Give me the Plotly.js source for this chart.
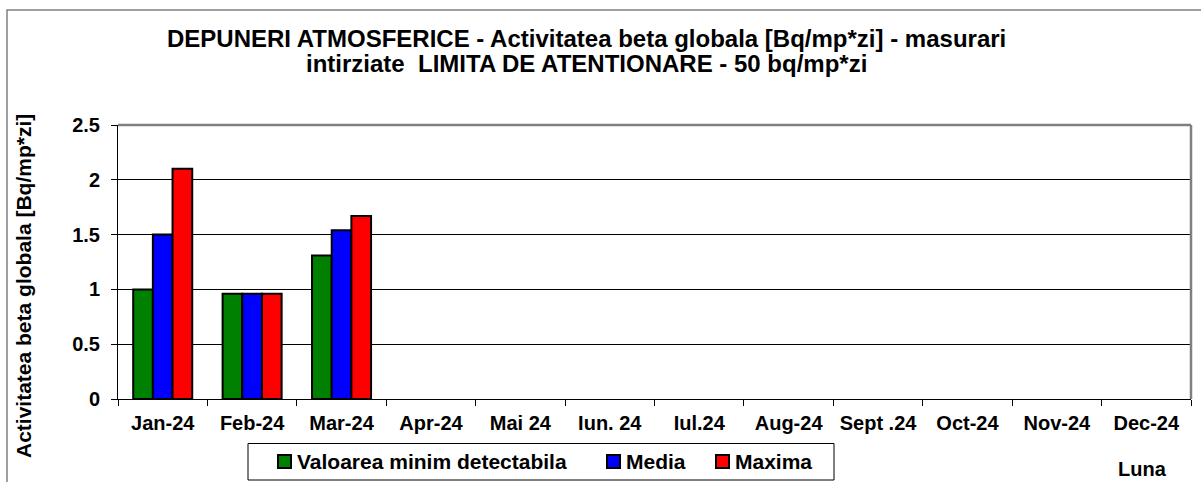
<!DOCTYPE html>
<html>
<head>
<meta charset="utf-8">
<script src="https://cdn.plot.ly/plotly-3.0.1.min.js"></script>
<style>
html,body{margin:0;padding:0;background:#fff;}
#chart{width:1201px;height:482px;}
</style>
</head>
<body>
<div id="chart"></div>
<script>
var months = ['Jan-24','Feb-24','Mar-24','Apr-24','Mai 24','Iun. 24','Iul.24','Aug-24','Sept .24','Oct-24','Nov-24','Dec-24'];
var minDetectabila = [1.0, 0.96, 1.31, null, null, null, null, null, null, null, null, null];
var media = [1.5, 0.96, 1.54, null, null, null, null, null, null, null, null, null];
var maxima = [2.1, 0.96, 1.67, null, null, null, null, null, null, null, null, null];
var seriesNames = ['Valoarea minim detectabila', 'Media', 'Maxima'];
var seriesColors = ['#008000', '#0000FF', '#FF0000'];
var yTicks = [0, 0.5, 1, 1.5, 2, 2.5];
var yTickLabels = ['0', '0.5', '1', '1.5', '2', '2.5'];
var titleLine1 = 'DEPUNERI ATMOSFERICE - Activitatea beta globala [Bq/mp*zi] - masurari';
var titleLine2 = 'intirziate\u00a0 LIMITA DE ATENTIONARE - 50 bq/mp*zi';
var yTitle = 'Activitatea beta globala [Bq/mp*zi]';
var xTitle = 'Luna';

var FONT = 'Liberation Sans, Arial, Helvetica, sans-serif';
var W = 1201, H = 482, L = 118, R = 1191, T = 125, B = 399;
function px(x){ return (x - L) / (R - L); }
function py(y){ return (B - y) / (B - T); }

var data = [minDetectabila, media, maxima].map(function(vals, i){
  return {type:'bar', name:seriesNames[i], x:months, y:vals, showlegend:false,
    marker:{color:seriesColors[i], line:{color:'#000', width:2}}, hoverinfo:'x+y+name'};
});

// legend drawn as shapes + text (box, swatches, labels)
var legSwatchX = [278, 607, 716];
var legTextX = [295, 624, 733];
var legY = 461.5;
var shapes = [
  {type:'rect', xref:'paper', yref:'paper', x0:px(7), x1:px(1215), y0:py(10), y1:py(495),
    line:{color:'#808080', width:1.5}, fillcolor:'rgba(0,0,0,0)', layer:'below'},
  {type:'line', xref:'paper', yref:'paper', x0:0, x1:1, y0:1, y1:1, line:{color:'#808080', width:2.5}, layer:'above'},
  {type:'line', xref:'paper', yref:'paper', x0:1, x1:1, y0:0, y1:1, line:{color:'#808080', width:2.5}, layer:'above'},
  {type:'rect', xref:'paper', yref:'paper', x0:px(248), x1:px(834), y0:py(443.5), y1:py(480),
    line:{color:'#000', width:1}, fillcolor:'#fff', layer:'above'}
];
var annotations = [
  {text:titleLine1, xref:'paper', yref:'paper', x:px(586), y:py(38.5), xanchor:'center', yanchor:'middle',
    showarrow:false, font:{family:FONT, size:24, weight:'bold', color:'#000'}},
  {text:titleLine2, xref:'paper', yref:'paper', x:px(586), y:py(63.5), xanchor:'center', yanchor:'middle',
    showarrow:false, font:{family:FONT, size:24, weight:'bold', color:'#000'}},
  {text:yTitle, xref:'paper', yref:'paper', x:px(23), y:py(286), xanchor:'center', yanchor:'middle',
    textangle:-90, showarrow:false, font:{family:FONT, size:21, weight:'bold', color:'#000'}},
  {text:xTitle, xref:'paper', yref:'paper', x:px(1142), y:py(469), xanchor:'center', yanchor:'middle',
    showarrow:false, font:{family:FONT, size:20, weight:'bold', color:'#000'}}
];
seriesNames.forEach(function(n, i){
  shapes.push({type:'rect', xref:'paper', yref:'paper',
    x0:px(legSwatchX[i]), x1:px(legSwatchX[i] + 13), y0:py(legY - 6.5), y1:py(legY + 6.5),
    line:{color:'#000', width:2}, fillcolor:seriesColors[i], layer:'above'});
  annotations.push({text:n, xref:'paper', yref:'paper', x:px(legTextX[i]), y:py(legY),
    xanchor:'left', yanchor:'middle', showarrow:false,
    font:{family:FONT, size:21, weight:'bold', color:'#000'}});
});

var layout = {
  width:W, height:H,
  margin:{l:L, r:W-R, t:T, b:H-B, pad:0},
  paper_bgcolor:'#fff', plot_bgcolor:'#fff',
  font:{family:FONT, color:'#000', size:20, weight:'bold'},
  barmode:'group', bargap:0.34, bargroupgap:0,
  showlegend:false,
  xaxis:{type:'category', range:[-0.5, 11.5], showgrid:false, zeroline:false,
    showline:true, linecolor:'#000', linewidth:1, tickangle:0,
    ticks:'outside', tickson:'boundaries', ticklen:6, tickcolor:'#000', tickwidth:1,
    ticklabelstandoff:6,
    tickfont:{family:FONT, size:20, weight:'bold', color:'#000'}, fixedrange:true},
  yaxis:{range:[0, 2.5], tickvals:yTicks, ticktext:yTickLabels,
    showgrid:true, gridcolor:'#000', gridwidth:1, zeroline:false,
    showline:true, linecolor:'#000', linewidth:1,
    ticks:'outside', ticklen:6, tickcolor:'#000', tickwidth:1,
    ticklabelstandoff:7,
    tickfont:{family:FONT, size:20, weight:'bold', color:'#000'}, fixedrange:true},
  shapes:shapes,
  annotations:annotations
};

Plotly.newPlot('chart', data, layout, {displayModeBar:false, staticPlot:true});
</script>
</body>
</html>
